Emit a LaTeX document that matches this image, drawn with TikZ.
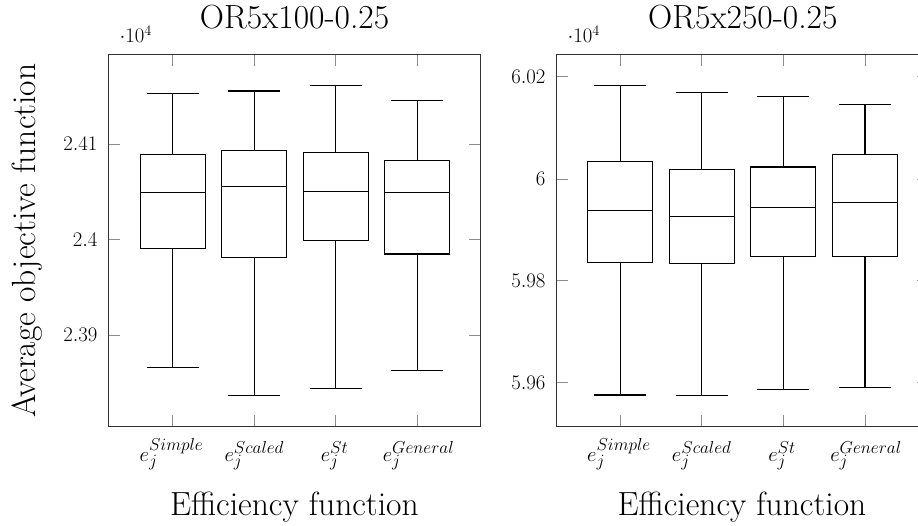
\documentclass[tikz,border=0pt]{standalone}
\DeclareMathSizes{22}{22}{18}{14}
\newcommand\bxp[6]{%
  \draw[boxline] (#1-32.5,#3) rectangle (#1+32.5,#5);
  \draw[boxline] (#1-32.5,#4) -- (#1+32.5,#4);
  \draw[boxline] (#1,#3) -- (#1,#2) (#1-26,#2) -- (#1+26,#2);
  \draw[boxline] (#1,#5) -- (#1,#6) (#1-26,#6) -- (#1+26,#6);}
\begin{document}
\begin{tikzpicture}[x=1pt,y=-1pt,
  frame/.style={draw=black!80, line width=1.1pt},
  tickmark/.style={draw=black!45, line width=1pt},
  boxline/.style={draw=black, line width=1.1pt},
  ticklabel/.style={font=\fontsize{21}{24}\selectfont, inner sep=0pt},
  xlab/.style={font=\fontsize{22}{26}\selectfont, inner sep=0pt, anchor=base},
  bigtext/.style={font=\fontsize{33.5}{38}\selectfont, inner sep=0pt, anchor=base},
]
\useasboundingbox (0,0) rectangle (918,525);
\clip (0,0) rectangle (918,525);

% ---------- left plot ----------
\foreach \c in {172.7,254.3,335.7,417.3}
  \draw[tickmark] (\c,54.5) -- (\c,66) (\c,426.7) -- (\c,415.2);
\foreach \yy in {144.3,239.7,335}
  \draw[tickmark] (108.5,\yy) -- (120,\yy) (480.7,\yy) -- (469.2,\yy);
\bxp{172.7}{93.3}{154.7}{192.3}{248.3}{367.7}
\bxp{254.3}{91}{150.7}{186.3}{257.3}{395.7}
\bxp{335.7}{85.7}{152.7}{191.3}{240.7}{388.7}
\bxp{417.3}{100.3}{160.3}{192.3}{254}{370.7}
\draw[frame] (108.5,54.5) rectangle (480.7,426.7);

\node[bigtext] (t1) at (294.6,28) {OR5x100-0.25};
\node[ticklabel, anchor=base west] (m1) at (119.3,42.7) {$\cdot 10^{4}$};
\node[ticklabel, anchor=east] (l1a) at (97.7,144.3) {$2.41$};
\node[ticklabel, anchor=east] (l1b) at (97.7,239.7) {$2.4$};
\node[ticklabel, anchor=east] (l1c) at (97.7,335) {$2.39$};
\node[xlab] (x1a) at (171.5,461) {$e_j^{Simple}$};
\node[xlab] (x1b) at (254.3,461) {$e_j^{Scaled}$};
\node[xlab] (x1c) at (334.5,461) {$e_j^{St}$};
\node[xlab] (x1d) at (418.5,461) {$e_j^{General}$};
\node[bigtext] (xl1) at (294.4,515) {Efficiency function};
\node[bigtext, rotate=90] (yl1) at (35,240.6) {Average objective function};

% ---------- right plot ----------
\foreach \c in {620.3,701.7,783.3,865}
  \draw[tickmark] (\c,54.5) -- (\c,66) (\c,426.7) -- (\c,415.2);
\foreach \yy in {76.7,179,280.7,382.7}
  \draw[tickmark] (556.7,\yy) -- (568.2,\yy) (928.9,\yy) -- (917.4,\yy);
\bxp{620.3}{85.7}{161.7}{210.7}{262.3}{395}
\bxp{701.7}{92.3}{169.7}{216.3}{263.3}{395.7}
\bxp{783.3}{96.3}{167}{207.3}{256.3}{389.3}
\bxp{865}{104.3}{154.3}{202.3}{256.7}{387.3}
\draw[frame] (556.7,54.5) rectangle (928.9,426.7);

\node[bigtext] (t2) at (742.8,28) {OR5x250-0.25};
\node[ticklabel, anchor=base west] (m2) at (567.3,42.7) {$\cdot 10^{4}$};
\node[ticklabel, anchor=east] (l2a) at (545.7,76.7) {$6.02$};
\node[ticklabel, anchor=east] (l2b) at (545.7,179) {$6$};
\node[ticklabel, anchor=east] (l2c) at (545.7,280.7) {$5.98$};
\node[ticklabel, anchor=east] (l2d) at (545.7,382.7) {$5.96$};
\node[xlab] (x2a) at (619,461) {$e_j^{Simple}$};
\node[xlab] (x2b) at (701.7,461) {$e_j^{Scaled}$};
\node[xlab] (x2c) at (782,461) {$e_j^{St}$};
\node[xlab] (x2d) at (866,461) {$e_j^{General}$};
\node[bigtext] (xl2) at (742,515) {Efficiency function};
\end{tikzpicture}
\end{document}
